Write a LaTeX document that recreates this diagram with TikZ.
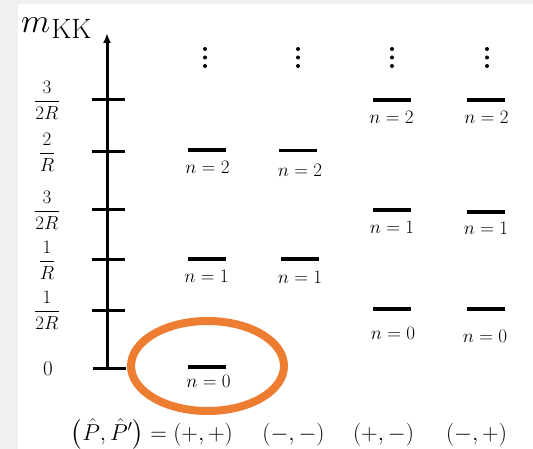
\documentclass[tikz,border=0pt]{standalone}
\usepackage{fix-cm}
\usepackage{amsmath}
\usetikzlibrary{arrows.meta}
\definecolor{framegray}{HTML}{F0F0F0}
\definecolor{ringorange}{HTML}{ED7D31}

\begin{document}
\begin{tikzpicture}[x=1pt,y=-1pt,
  axisline/.style={line width=3pt},
  tickmark/.style={line width=3pt},
  levelbar/.style={fill=black, minimum width=38pt, minimum height=3.5pt, inner sep=0pt, outer sep=0pt},
  levellabel/.style={inner sep=0pt, font=\fontsize{19}{19}\selectfont},
  ticklabel/.style={inner sep=0pt, font=\fontsize{19}{19}\selectfont},
  pairlabel/.style={inner sep=0pt, anchor=base, font=\fontsize{23}{23}\selectfont},
  dotmark/.style={circle, fill=black, inner sep=0pt, minimum size=4pt},
  ring/.style={draw=ringorange, line width=8pt}
]
% page frame
\fill[framegray] (0,0) rectangle (533,449);
\fill[white] (18,4) rectangle (533,449);
\useasboundingbox (0,0) rectangle (533,449);

% vertical mass axis
\coordinate (axbot) at (107,369.5);
\coordinate (axtop) at (107,33);
\draw[axisline, -{Latex[length=10pt,width=8pt]}] (axbot) -- (axtop);
\node[anchor=base west, inner sep=0pt] (mkk) at (21,33)
  {{\fontsize{34}{34}\selectfont$m$}\kern1pt\raisebox{-6pt}{\fontsize{28}{28}\selectfont KK}};

% ticks and their labels
\foreach \yy/\nm in {100/t5,152/t4,210/t3,260/t2,310/t1}{
  \coordinate (\nm l) at (92,\yy);
  \coordinate (\nm r) at (125,\yy);
  \draw[tickmark] (\nm l) -- (\nm r);
}
\coordinate (t0l) at (93,368);
\coordinate (t0r) at (126,368);
\draw[tickmark] (t0l) -- (t0r);

\node[ticklabel] (l5) at (47,100) {$\dfrac{3}{2R}$};
\node[ticklabel] (l4) at (47,152) {$\dfrac{2}{R}$};
\node[ticklabel] (l3) at (47,210) {$\dfrac{3}{2R}$};
\node[ticklabel] (l2) at (47,260) {$\dfrac{1}{R}$};
\node[ticklabel] (l1) at (47,310) {$\dfrac{1}{2R}$};
\node[ticklabel, font=\fontsize{21}{21}\selectfont] (l0) at (48,369) {$0$};

% continuation dots above each column
\foreach \xx/\cn in {205/a,298/b,392/c,487/d}{
  \foreach \yy/\k in {49/1,57.5/2,66/3}{
    \node[dotmark] (dot\cn\k) at (\xx,\yy) {};
  }
}

% column (+,+)
\node[levelbar] (a2) at (207,150) {};
\node[levellabel] (a2t) at (207.5,167.5) {$n=2$};
\node[levelbar] (a1) at (207,259) {};
\node[levellabel] (a1t) at (206.5,276) {$n=1$};
\node[levelbar] (a0) at (207,367) {};
\node[levellabel] (a0t) at (208.5,381.5) {$n=0$};

% column (-,-)
\node[levelbar] (b2) at (297.5,150.5) {};
\node[levellabel] (b2t) at (300,170.5) {$n=2$};
\node[levelbar] (b1) at (299.5,259) {};
\node[levellabel] (b1t) at (300,277.5) {$n=1$};

% column (+,-)
\node[levelbar] (c2) at (392,100) {};
\node[levellabel] (c2t) at (391.5,117.5) {$n=2$};
\node[levelbar] (c1) at (392,210) {};
\node[levellabel] (c1t) at (392,227) {$n=1$};
\node[levelbar] (c0) at (392,309) {};
\node[levellabel] (c0t) at (393,333) {$n=0$};

% column (-,+)
\node[levelbar] (d2) at (485.5,100) {};
\node[levellabel] (d2t) at (486.5,117.5) {$n=2$};
\node[levelbar] (d1) at (485.5,212) {};
\node[levellabel] (d1t) at (486,228) {$n=1$};
\node[levelbar] (d0) at (485.5,309) {};
\node[levellabel] (d0t) at (485,336) {$n=0$};

% highlight of the zero mode
\draw[ring] (207.5,366) ellipse [x radius=76.5, y radius=45];

% parity assignments
\node[pairlabel, anchor=base east] (pa) at (233,440) {$\bigl(\hat{P},\hat{P}'\bigr)=(+,+)$};
\node[pairlabel] (pb) at (293.5,440) {$(-,-)$};
\node[pairlabel] (pc) at (383.5,440) {$(+,-)$};
\node[pairlabel] (pd) at (476.5,440) {$(-,+)$};
\end{tikzpicture}
\end{document}
